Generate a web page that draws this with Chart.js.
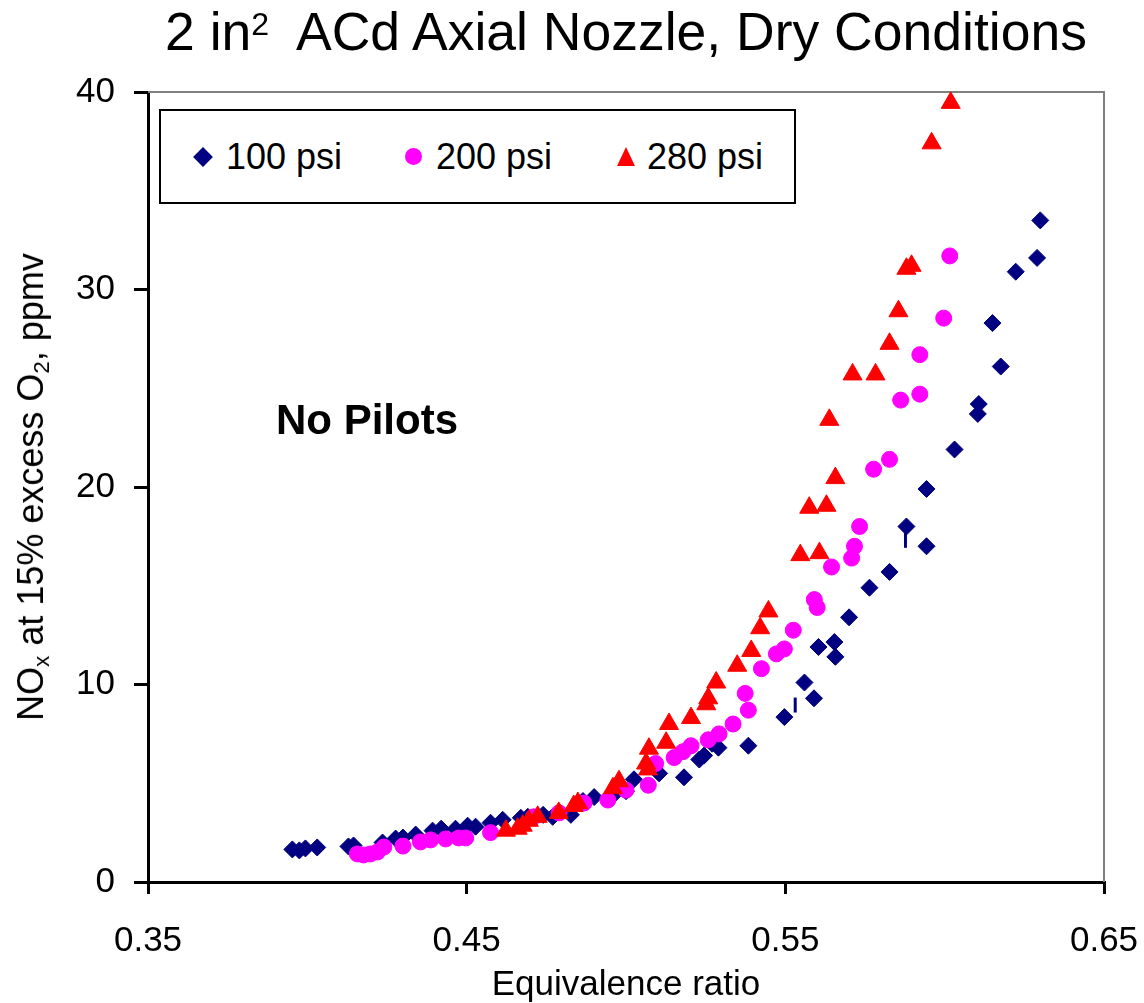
<!DOCTYPE html>
<html>
<head>
<meta charset="utf-8">
<script src="https://cdn.jsdelivr.net/npm/chart.js@4.4.1/dist/chart.umd.min.js"></script>
<style>
  html, body { margin: 0; padding: 0; background: #fff; }
  #wrap { position: relative; width: 1144px; height: 1003px; font-family: "Liberation Sans", Arial, sans-serif; color: #000; }
  #c { position: absolute; left: 0; top: 0; }
  .title { position: absolute; left: 148px; width: 956px; top: 2px; text-align: center; font-size: 53.5px; line-height: 60px; white-space: nowrap; }
  .title sup { font-size: 60%; line-height: 0; vertical-align: 15px; }
  .ylab { position: absolute; left: 31px; top: 487px; font-size: 36px; line-height: 40px; white-space: nowrap;
          transform: translate(-50%, -50%) rotate(-90deg); }
  .ylab sub { font-size: 62%; line-height: 0; vertical-align: -6px; }
  .note { position: absolute; left: 276px; top: 395px; font-size: 42px; line-height: 50px; font-weight: bold; white-space: nowrap; }
  #legend { position: absolute; left: 159px; top: 109px; width: 637px; height: 95px; box-sizing: border-box; border: 2px solid #000; background: #fff; }
  #legend .txt { position: absolute; top: 26px; font-size: 36px; line-height: 40px; white-space: nowrap; }
  #legend .mk { position: absolute; }
</style>
</head>
<body>
<div id="wrap">
  <canvas id="c" width="1144" height="1003"></canvas>
  <div class="title">2 in<sup>2</sup>&nbsp; ACd Axial Nozzle, Dry Conditions</div>
  <div class="ylab">NO<sub>x</sub> at 15% excess O<sub>2</sub>, ppmv</div>
  <div class="note">No Pilots</div>
  <div id="legend"></div>
</div>
<script>
// ---------- Data ----------
const xTicks = [0.35, 0.45, 0.55, 0.65];
const yTicks = [0, 10, 20, 30, 40];

const x100 = [0.3953, 0.3975, 0.3994, 0.4031, 0.4129, 0.4145, 0.4236, 0.4277, 0.4300, 0.4340, 0.4393, 0.4420,
  0.4465, 0.4503, 0.4528, 0.4575, 0.4613, 0.4670, 0.4692, 0.4740, 0.4770, 0.4827, 0.4865, 0.4900, 0.4960,
  0.5000, 0.5025, 0.5104, 0.5182, 0.5230, 0.5245, 0.5270, 0.5290, 0.5384, 0.5497, 0.5560, 0.5590, 0.5604,
  0.5654, 0.5657, 0.5700, 0.5764, 0.5827, 0.5880, 0.5943, 0.5943, 0.6031, 0.6104, 0.6107, 0.6176, 0.6150,
  0.6223, 0.6290, 0.6300];
const y100 = [1.65, 1.6, 1.7, 1.75, 1.8, 1.85, 2.0, 2.2, 2.25, 2.4, 2.6, 2.7,
  2.7, 2.85, 2.8, 3.0, 3.15, 3.25, 3.3, 3.4, 3.3, 3.4, 4.1, 4.3, 4.4,
  4.6, 5.2, 5.5, 5.3, 6.2, 6.4, 7.0, 6.8, 6.9, 8.35, 10.1, 9.3, 11.9,
  12.15, 11.4, 13.4, 14.9, 15.7, 18.0, 17.0, 19.9, 21.9, 23.7, 24.2, 26.1, 28.3,
  30.9, 31.6, 33.5];

const x200 = [0.4157, 0.4176, 0.4198, 0.4220, 0.4240, 0.4300, 0.4355, 0.4387, 0.4434, 0.4475, 0.4497, 0.4575,
  0.4710, 0.4790, 0.4868, 0.4943, 0.5000, 0.5070, 0.5093, 0.5151, 0.5179, 0.5204, 0.5258, 0.5292, 0.5336,
  0.5384, 0.5374, 0.5425, 0.5472, 0.5497, 0.5525, 0.5591, 0.5600, 0.5645, 0.5708, 0.5717, 0.5733, 0.5777,
  0.5827, 0.5862, 0.5922, 0.5922, 0.5997, 0.6016];
const y200 = [1.42, 1.37, 1.42, 1.52, 1.77, 1.82, 2.03, 2.13, 2.18, 2.23, 2.23, 2.5,
  3.3, 3.5, 4.0, 4.15, 4.65, 4.9, 6.0, 6.3, 6.6, 6.9, 7.2, 7.5, 8.0,
  8.7, 9.55, 10.8, 11.55, 11.8, 12.75, 14.3, 13.9, 15.95, 16.4, 17.0, 18.0, 20.9,
  21.4, 24.4, 24.7, 26.7, 28.55, 31.7];

const x280 = [0.4623, 0.4660, 0.4676, 0.4695, 0.4723, 0.4789, 0.4836, 0.4849, 0.4959, 0.4978, 0.5063, 0.5069,
  0.5072, 0.5126, 0.5135, 0.5204, 0.5252, 0.5258, 0.5283, 0.5349, 0.5393, 0.5421, 0.5447, 0.5547, 0.5607,
  0.5575, 0.5629, 0.5657, 0.5638, 0.5711, 0.5783, 0.5827, 0.5855, 0.5880, 0.5896, 0.5959, 0.6019];
const y280 = [2.6, 2.7, 2.85, 3.1, 3.3, 3.5, 3.85, 4.0, 4.75, 5.1, 6.0, 5.7,
  6.75, 7.05, 8.0, 8.3, 9.0, 9.3, 10.1, 10.95, 11.7, 12.85, 13.7, 16.55, 16.65,
  18.95, 19.05, 20.45, 23.4, 25.7, 25.7, 27.25, 28.9, 31.05, 31.2, 37.4, 39.45];

// small vertical marks next to two 100 psi points
const xMark = [0.5877, 0.5531];
const yMark = [17.3, 8.96];

const seriesNames = ['100 psi', '200 psi', '280 psi'];
const FONT = '"Liberation Sans", Arial, sans-serif';

const pts = (xs, ys) => xs.map((x, i) => ({ x, y: ys[i] }));

// ---------- Plot frame (grey top/right border) ----------
const frame = {
  id: 'frame',
  beforeDatasetsDraw(chart) {
    const { ctx, chartArea: a } = chart;
    ctx.save();
    ctx.strokeStyle = '#808080';
    ctx.lineWidth = 2;
    ctx.beginPath();
    ctx.moveTo(a.left, a.top);
    ctx.lineTo(a.right, a.top);
    ctx.lineTo(a.right, a.bottom);
    ctx.stroke();
    ctx.restore();
  }
};

const datasets = [
  { label: seriesNames[0], data: pts(x100, y100), pointStyle: 'rectRot', pointRadius: 8.5,
    backgroundColor: '#000080', borderColor: '#000080', borderWidth: 1, order: 3 },
  { label: seriesNames[1], data: pts(x200, y200), pointStyle: 'circle', pointRadius: 8,
    backgroundColor: '#ff00ff', borderColor: '#ff00ff', borderWidth: 1, order: 2 },
  { label: seriesNames[2], data: pts(x280, y280), pointStyle: 'triangle', pointRadius: 11,
    backgroundColor: '#ff0000', borderColor: '#ff0000', borderWidth: 1, order: 1 },
  { label: 'marks', data: pts(xMark, yMark), pointStyle: 'line', rotation: 90, pointRadius: 7.5,
    borderColor: '#000080', borderWidth: 3, order: 4 },
];
datasets.forEach(d => { d.showLine = false; d.clip = false; d.pointHoverRadius = d.pointRadius; });

new Chart(document.getElementById('c'), {
  type: 'scatter',
  data: { datasets },
  plugins: [frame],
  options: {
    responsive: false,
    devicePixelRatio: 1,
    animation: false,
    events: [],
    layout: { padding: { top: 92, right: 40, left: 0, bottom: 0 } },
    plugins: { legend: { display: false }, tooltip: { enabled: false } },
    scales: {
      x: {
        type: 'linear', min: xTicks[0], max: xTicks[xTicks.length - 1],
        afterBuildTicks: s => { s.ticks = xTicks.map(v => ({ value: v })); },
        // fixed box so the plot area lands where the reference has it
        afterFit: s => { s.height = 121; s.paddingLeft = 0; s.paddingRight = 0; },
        grid: { drawOnChartArea: false, tickLength: 12, color: '#000', lineWidth: 3 },
        border: { color: '#000', width: 3 },
        ticks: { color: '#000', padding: 26, maxRotation: 0, font: { size: 35, family: FONT },
                 callback: v => v.toFixed(2) },
        title: { display: true, text: 'Equivalence ratio', color: '#000', padding: 0,
                 font: { size: 35, family: FONT, lineHeight: 1 } }
      },
      y: {
        min: yTicks[0], max: yTicks[yTicks.length - 1],
        afterBuildTicks: s => { s.ticks = yTicks.map(v => ({ value: v })); },
        afterFit: s => { s.width = 148; s.paddingTop = 0; s.paddingBottom = 0; },
        grid: { drawOnChartArea: false, tickLength: 14, color: '#000', lineWidth: 3 },
        border: { color: '#000', width: 3 },
        ticks: { color: '#000', padding: 19, font: { size: 35, family: FONT } }
      }
    }
  }
});

// ---------- Legend (boxed, inside the plot) ----------
const legend = document.getElementById('legend');
const markers = [
  '<div class="mk" style="left:35px;top:39px;width:14px;height:14px;background:#000080;transform:rotate(45deg)"></div>',
  '<div class="mk" style="left:244px;top:37px;width:17px;height:17px;border-radius:50%;background:#ff00ff"></div>',
  '<div class="mk" style="left:456px;top:36px;width:0;height:0;border-left:9.5px solid transparent;border-right:9.5px solid transparent;border-bottom:19px solid #ff0000"></div>'
];
const textLeft = [65, 275, 486];
seriesNames.forEach((n, i) => {
  legend.insertAdjacentHTML('beforeend', markers[i] + `<span class="txt" style="left:${textLeft[i]}px">${n}</span>`);
});
</script>
</body>
</html>
